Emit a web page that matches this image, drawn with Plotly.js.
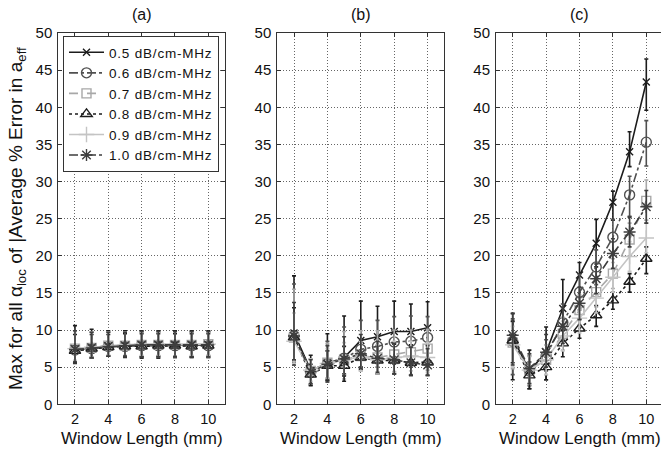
<!DOCTYPE html>
<html><head><meta charset="utf-8">
<script src="https://cdn.plot.ly/plotly-3.0.1.min.js"></script>
<style>html,body{margin:0;padding:0;background:#fff}#chart{width:661px;height:452px}
.legendtext{letter-spacing:0.8px}</style>
</head><body><div id="chart"></div>
<script>
// ---------- DATA ----------
const windowLen = [2, 3, 4, 5, 6, 7, 8, 9, 10];
const seriesNames = ['0.5 dB/cm-MHz', '0.6 dB/cm-MHz', '0.7 dB/cm-MHz', '0.8 dB/cm-MHz', '0.9 dB/cm-MHz', '1.0 dB/cm-MHz'];
const panelLabels = ['(a)', '(b)', '(c)'];
const yTicks = [0, 5, 10, 15, 20, 25, 30, 35, 40, 45, 50];
const xTicks = [2, 4, 6, 8, 10];

// panel (a)
const a05 = [7.4, 7.6, 7.8, 7.9, 8.0, 8.0, 8.0, 8.0, 8.0];
const a06 = [7.3, 7.5, 7.8, 7.8, 7.9, 7.9, 7.9, 7.9, 7.9];
const a07 = [7.5, 7.6, 7.9, 7.9, 8.0, 8.0, 8.0, 8.0, 8.1];
const a08 = [7.2, 7.5, 7.7, 7.8, 7.8, 7.9, 7.9, 7.8, 7.9];
const a09 = [7.5, 7.7, 7.9, 8.0, 8.1, 8.1, 8.0, 8.1, 8.1];
const a10 = [7.4, 7.6, 7.8, 7.9, 8.0, 8.0, 8.0, 8.0, 8.0];
const a05Up = [3.2, 2.5, 2.1, 2.0, 1.9, 1.9, 1.9, 1.9, 1.9];
const a05Dn = [1.9, 1.4, 1.3, 1.6, 1.8, 1.8, 1.7, 1.7, 1.7];
const a06Up = [2.6, 2.2, 1.9, 1.9, 1.8, 1.8, 1.8, 1.8, 1.8];
const a06Dn = [1.7, 1.3, 1.3, 1.4, 1.6, 1.6, 1.6, 1.6, 1.6];
const a07Up = [2.4, 2.1, 1.8, 1.8, 1.7, 1.7, 1.7, 1.7, 1.6];
const a07Dn = [1.6, 1.3, 1.3, 1.4, 1.5, 1.5, 1.5, 1.5, 1.5];
const a08Up = [2.2, 1.9, 1.7, 1.7, 1.7, 1.6, 1.6, 1.7, 1.6];
const a08Dn = [1.5, 1.2, 1.2, 1.3, 1.4, 1.4, 1.4, 1.4, 1.4];
const a09Up = [2.3, 2.0, 1.8, 1.7, 1.6, 1.6, 1.7, 1.6, 1.6];
const a09Dn = [1.6, 1.3, 1.3, 1.4, 1.5, 1.5, 1.5, 1.5, 1.5];
const a10Up = [2.5, 2.1, 1.9, 1.8, 1.8, 1.8, 1.8, 1.8, 1.8];
const a10Dn = [1.7, 1.3, 1.3, 1.4, 1.6, 1.6, 1.6, 1.6, 1.6];

// panel (b)
const b05 = [9.6, 4.6, 5.5, 6.3, 8.6, 9.1, 9.8, 9.8, 10.3];
const b06 = [9.2, 4.3, 5.5, 6.2, 7.4, 7.8, 8.4, 8.5, 9.0];
const b07 = [9.0, 4.5, 5.6, 6.0, 6.5, 6.3, 6.7, 7.0, 7.5];
const b08 = [9.0, 4.0, 5.2, 5.2, 6.3, 5.9, 5.9, 5.6, 5.7];
const b09 = [8.5, 4.6, 5.5, 6.0, 6.4, 6.0, 6.3, 6.5, 6.3];
const b10 = [9.2, 4.4, 5.4, 6.1, 6.8, 6.2, 6.0, 5.6, 5.3];
const b05Up = [7.7, 2.0, 4.0, 5.6, 5.3, 4.1, 4.1, 3.7, 3.5];
const b05Dn = [4.3, 2.0, 2.5, 2.2, 3.6, 3.6, 4.0, 4.5, 4.5];
const b06Up = [7.0, 1.8, 3.0, 4.2, 3.9, 3.5, 3.4, 3.4, 2.8];
const b06Dn = [3.5, 1.6, 2.0, 2.4, 2.4, 2.8, 3.0, 3.5, 4.0];
const b07Up = [6.5, 1.6, 2.6, 3.8, 3.4, 3.6, 3.3, 3.0, 2.6];
const b07Dn = [3.2, 1.8, 2.4, 2.6, 2.0, 2.2, 2.3, 3.0, 2.9];
const b08Up = [4.0, 1.4, 2.0, 2.6, 2.2, 2.0, 2.2, 2.4, 2.2];
const b08Dn = [3.0, 1.5, 2.0, 2.1, 1.6, 1.8, 1.8, 1.7, 1.8];
const b09Up = [3.8, 1.5, 2.0, 2.3, 2.0, 2.0, 2.2, 2.0, 2.0];
const b09Dn = [3.0, 1.5, 2.0, 2.0, 1.9, 1.9, 2.0, 2.0, 2.0];
const b10Up = [4.5, 1.6, 2.5, 3.0, 2.6, 2.3, 2.2, 2.1, 2.2];
const b10Dn = [3.2, 1.6, 2.1, 2.2, 2.0, 1.9, 1.9, 1.7, 1.4];

// panel (c)
const c05 = [9.0, 4.5, 7.0, 12.9, 17.4, 21.7, 27.2, 34.0, 43.4];
const c06 = [8.5, 4.5, 6.5, 11.0, 15.1, 18.5, 22.5, 28.2, 35.3];
const c07 = [8.3, 4.6, 6.0, 9.5, 12.7, 15.1, 17.6, 22.2, 27.4];
const c08 = [8.6, 3.9, 5.0, 8.2, 10.2, 12.0, 14.0, 16.5, 19.6];
const c09 = [8.0, 4.6, 6.0, 9.2, 11.6, 14.3, 17.1, 19.9, 22.4];
const c10 = [9.3, 4.8, 7.0, 10.5, 13.6, 16.9, 20.3, 23.2, 26.6];
const c05Up = [3.2, 2.8, 3.4, 3.9, 1.7, 3.2, 1.5, 2.7, 3.1];
const c05Dn = [5.7, 2.4, 3.7, 3.0, 3.0, 3.2, 2.4, 2.0, 3.8];
const c06Up = [3.0, 2.0, 2.2, 2.5, 2.4, 2.3, 2.4, 2.5, 2.9];
const c06Dn = [4.5, 2.0, 2.0, 2.5, 2.4, 2.4, 2.4, 2.9, 3.2];
const c07Up = [2.8, 2.0, 2.0, 2.2, 2.0, 2.0, 2.0, 2.2, 2.8];
const c07Dn = [3.5, 2.0, 2.0, 2.2, 2.0, 2.0, 2.0, 2.2, 2.6];
const c08Up = [2.6, 1.8, 1.8, 1.8, 1.3, 1.3, 1.1, 1.1, 1.6];
const c08Dn = [3.0, 1.8, 1.7, 1.8, 1.3, 1.5, 1.2, 1.4, 2.0];
const c09Up = [2.5, 1.8, 2.0, 2.0, 2.0, 2.0, 2.0, 2.0, 2.0];
const c09Dn = [3.0, 1.8, 2.0, 2.0, 2.0, 2.0, 2.0, 2.0, 2.0];
const c10Up = [3.0, 2.0, 2.4, 2.5, 2.2, 2.0, 2.0, 2.0, 2.2];
const c10Dn = [4.0, 2.0, 2.0, 2.3, 2.2, 2.0, 2.0, 2.0, 2.2];

// ---------- STYLES ----------
const colors = ['#1c1c1c', '#505050', '#a8a8a8', '#1c1c1c', '#c4c4c4', '#3e3e3e'];
const dashes = ['solid', 'dashdot', 'dash', 'dot', 'solid', 'dashdot'];
const symbols = ['x-thin-open', 'circle-open', 'square-open', 'triangle-up-open', 'cross-thin-open', 'asterisk-open'];
const msizes = [7, 10, 9, 10, 11, 10];
const FONT = '"Liberation Sans", Arial, sans-serif';

const panels = [
  { vals: [a05, a06, a07, a08, a09, a10], up: [a05Up, a06Up, a07Up, a08Up, a09Up, a10Up], dn: [a05Dn, a06Dn, a07Dn, a08Dn, a09Dn, a10Dn] },
  { vals: [b05, b06, b07, b08, b09, b10], up: [b05Up, b06Up, b07Up, b08Up, b09Up, b10Up], dn: [b05Dn, b06Dn, b07Dn, b08Dn, b09Dn, b10Dn] },
  { vals: [c05, c06, c07, c08, c09, c10], up: [c05Up, c06Up, c07Up, c08Up, c09Up, c10Up], dn: [c05Dn, c06Dn, c07Dn, c08Dn, c09Dn, c10Dn] }
];

const traces = [];
panels.forEach((p, pi) => {
  const sfx = pi === 0 ? '' : String(pi + 1);
  p.vals.forEach((v, si) => {
    traces.push({
      type: 'scatter', mode: 'lines+markers',
      x: windowLen, y: v,
      xaxis: 'x' + sfx, yaxis: 'y' + sfx,
      name: seriesNames[si],
      showlegend: pi === 0,
      line: { color: colors[si], dash: dashes[si], width: 1.6 },
      marker: { symbol: symbols[si], size: msizes[si], color: colors[si], line: { color: colors[si], width: 1.4 } },
      error_y: { type: 'data', symmetric: false, array: p.up[si], arrayminus: p.dn[si], color: colors[si], thickness: 1.6, width: 2 }
    });
  });
});

const domains = [[58.3 / 661, 225 / 661], [277.3 / 661, 444.3 / 661], [496 / 661, 1]];
const xRanges = [[1, 11], [1, 11], [1, 10.88]];
const yDomain = [(452 - 404.3) / 452, (452 - 33) / 452];

const layout = {
  width: 661, height: 452,
  margin: { l: 0, r: 0, t: 0, b: 0 },
  paper_bgcolor: '#ffffff', plot_bgcolor: '#ffffff',
  font: { family: FONT, color: '#111', size: 14 },
  showlegend: true,
  legend: {
    x: 63 / 661, y: 1 - 36 / 452, xanchor: 'left', yanchor: 'top',
    bgcolor: '#ffffff', bordercolor: '#333', borderwidth: 1,
    font: { family: FONT, size: 13.5, color: '#111' },
    itemwidth: 35, tracegroupgap: 0
  },
  annotations: [],
  hovermode: false
};

domains.forEach((d, i) => {
  const sfx = i === 0 ? '' : String(i + 1);
  layout['xaxis' + sfx] = {
    domain: d, range: xRanges[i], anchor: 'y' + sfx,
    tickmode: 'array', tickvals: xTicks,
    ticks: 'inside', ticklen: 4, tickcolor: '#333',
    showline: true, linecolor: '#333', linewidth: 1, mirror: 'ticks',
    showgrid: true, gridcolor: '#666', griddash: '1px,2px', gridwidth: 1,
    zeroline: false, tickfont: { size: 14.5, family: FONT, color: '#111' },
    ticklabelstandoff: 1
  };
  layout['yaxis' + sfx] = {
    domain: yDomain, range: [0, 50], anchor: 'x' + sfx,
    tickmode: 'array', tickvals: yTicks,
    ticks: 'inside', ticklen: 4, tickcolor: '#333',
    showline: true, linecolor: '#333', linewidth: 1, mirror: i === 2 ? false : 'ticks',
    showgrid: true, gridcolor: '#666', griddash: '1px,2px', gridwidth: 1,
    zeroline: false, tickfont: { size: 15, family: FONT, color: '#111' },
    ticklabelstandoff: 2
  };
  layout.annotations.push({
    text: panelLabels[i], xref: 'paper', yref: 'paper',
    x: (58.3 + 166.7 / 2 + i * 219) / 661, y: 1 - 15 / 452, xanchor: 'center', yanchor: 'middle',
    showarrow: false, font: { size: 16, family: FONT, color: '#111' }
  });
  layout.annotations.push({
    text: 'Window Length (mm)', xref: 'paper', yref: 'paper',
    x: (58.3 + 166.7 / 2 + i * 219) / 661, y: 1 - 438 / 452, xanchor: 'center', yanchor: 'middle',
    showarrow: false, font: { size: 17, family: FONT, color: '#111' }
  });
});

layout.annotations.push({
  text: 'Max for all α<sub>loc</sub> of |Average % Error in a<sub>eff</sub>',
  xref: 'paper', yref: 'paper', x: 17 / 661, y: 1 - 219 / 452,
  xanchor: 'center', yanchor: 'middle', textangle: -90,
  showarrow: false, font: { size: 19, family: FONT, color: '#111' }
});

Plotly.newPlot('chart', traces, layout, { staticPlot: true, displayModeBar: false });
</script></body></html>
